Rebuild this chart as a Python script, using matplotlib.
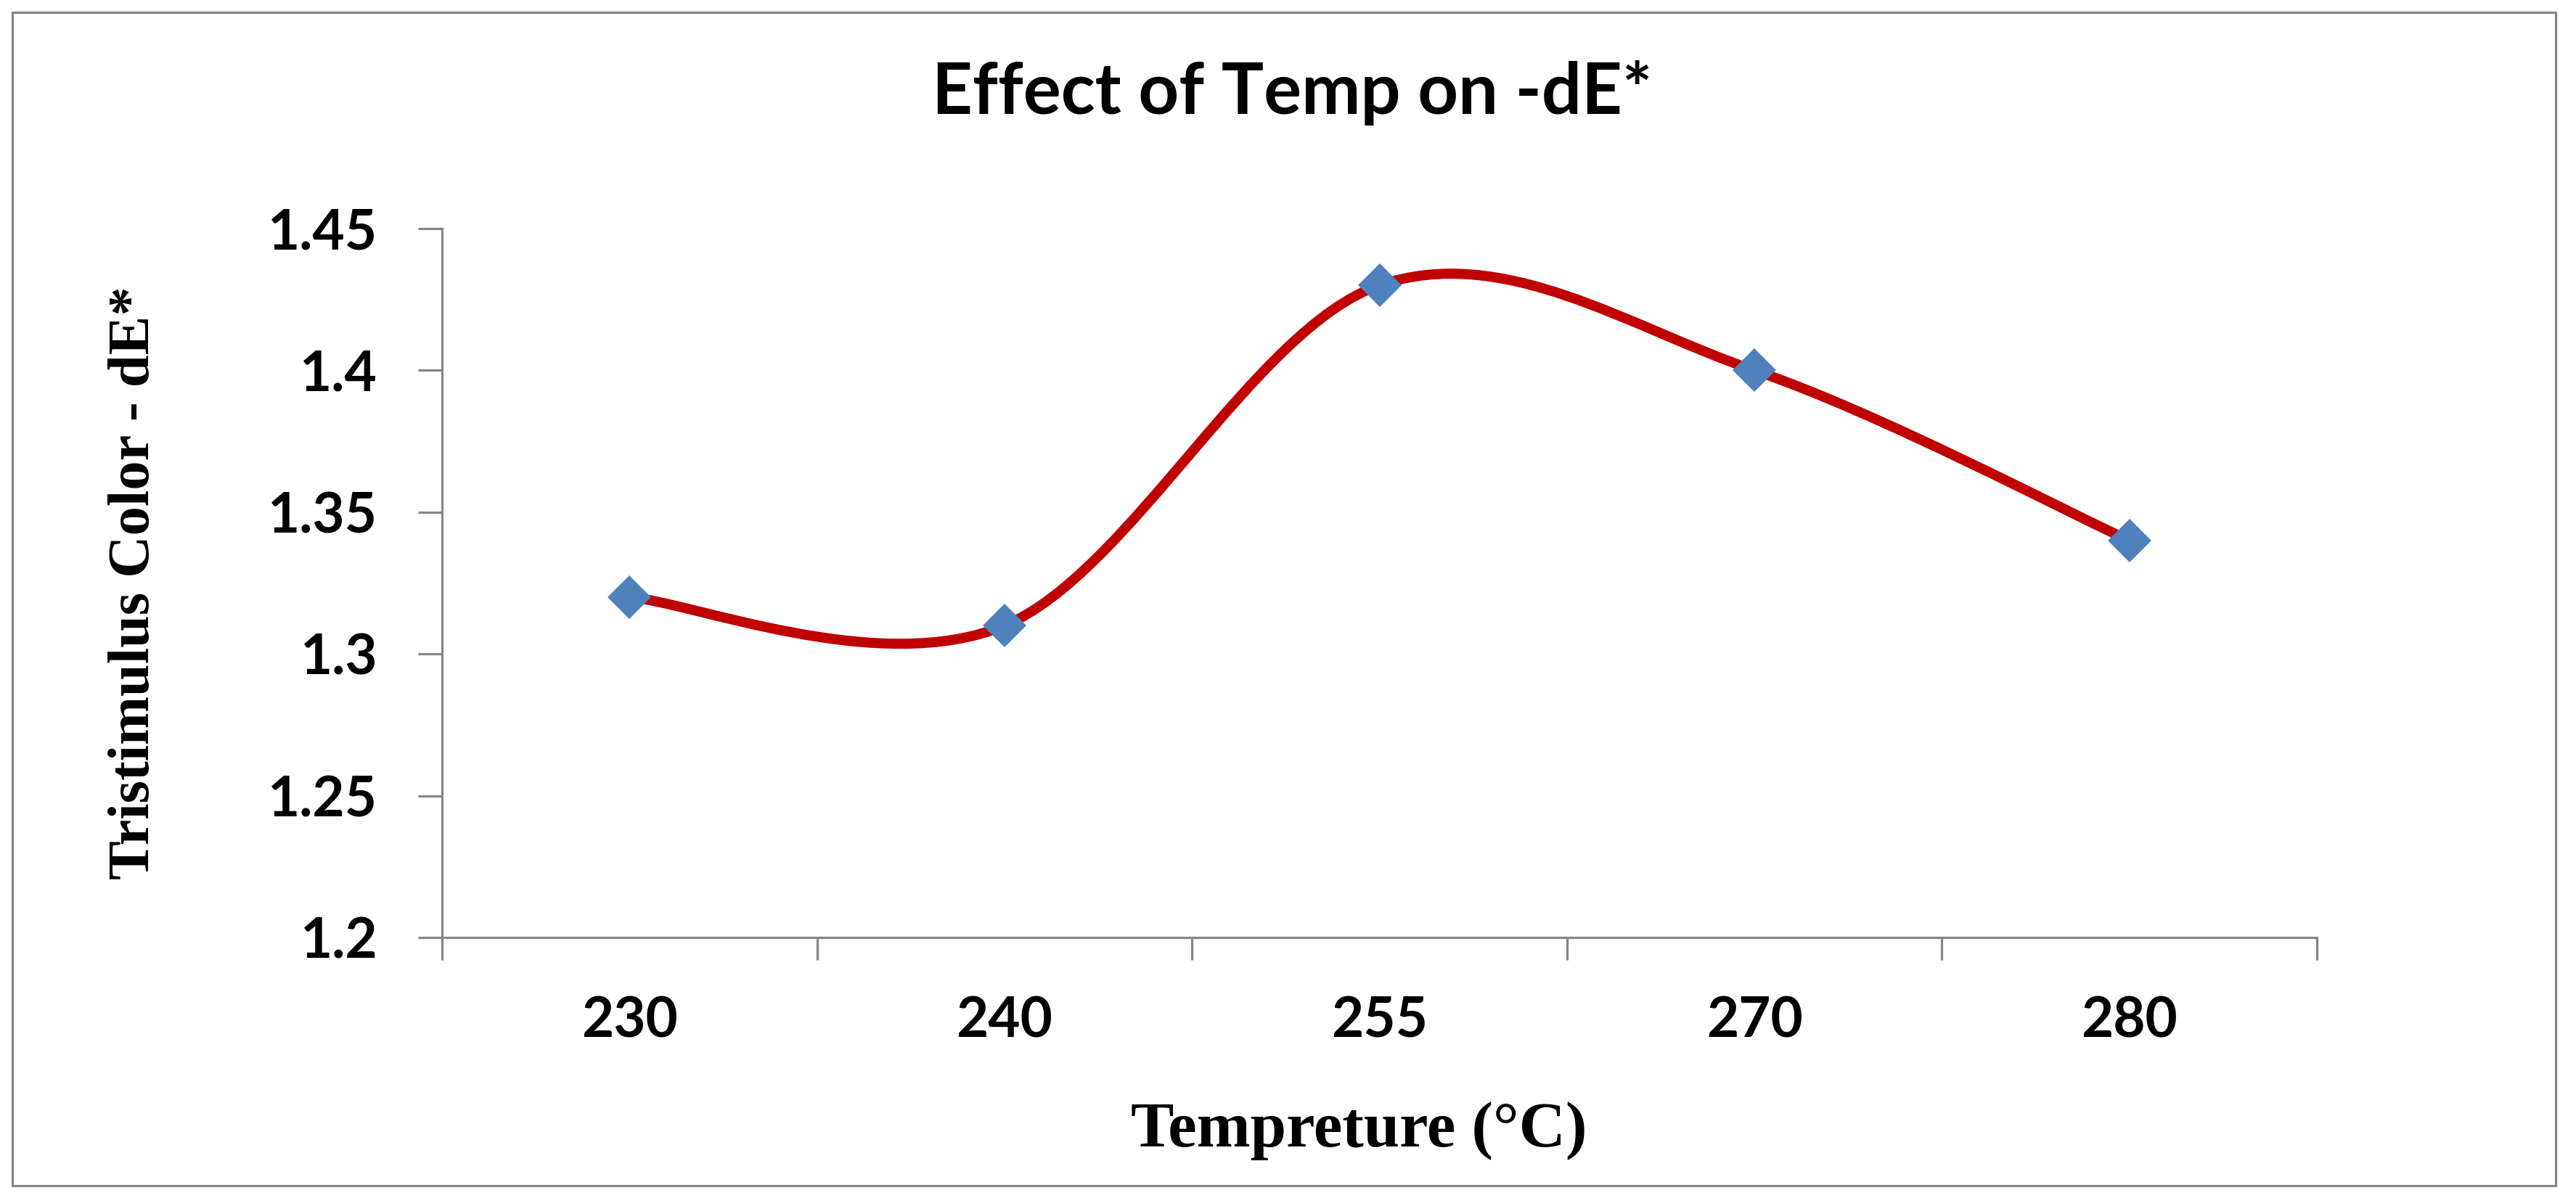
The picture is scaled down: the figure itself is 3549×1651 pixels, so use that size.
import numpy as np
import matplotlib
matplotlib.use('Agg')
from matplotlib import pyplot as plt
from matplotlib import patches
from matplotlib.path import Path


temps = ['230', '240', '255', '270', '280']
dE = [1.32, 1.31, 1.43, 1.40, 1.34]
y_ticks = [1.2, 1.25, 1.3, 1.35, 1.4, 1.45]
y_labels = ['1.2', '1.25', '1.3', '1.35', '1.4', '1.45']

W, H = 3549, 1651
DPI = 100
GRAY = '#868686'


def smooth_path(xs, ys):
    # excel-style smoothed line: catmull-rom as cubic bezier pieces
    pts = np.column_stack([xs, ys]).astype(float)
    ext = np.vstack([pts[0], pts, pts[-1]])
    verts = [pts[0]]
    codes = [Path.MOVETO]
    for i in range(len(pts) - 1):
        p0, p1, p2, p3 = ext[i], ext[i + 1], ext[i + 2], ext[i + 3]
        c1 = p1 + (p2 - p0) / 6.0
        c2 = p2 - (p3 - p1) / 6.0
        verts += [c1, c2, p2]
        codes += [Path.CURVE4] * 3
    return Path(verts, codes)


def main():
    fig = plt.figure(figsize=(W / DPI, H / DPI), dpi=DPI)
    ax = fig.add_axes([609 / W, 1 - 1292 / H, (3192 - 609) / W, (1292 - 315) / H])

    x = np.arange(len(temps))
    curve = patches.PathPatch(smooth_path(x, dE), fill=False, ec='#C00000',
                              lw=10, capstyle='round', zorder=2)
    ax.add_patch(curve)
    ax.plot(x, dE, ls='none', marker='D', ms=31, color='#4F81BD',
            mec='#4F81BD', mew=0, zorder=3)

    ax.set_xlim(-0.5, len(temps) - 0.5)
    ax.set_ylim(1.2, 1.45)

    for s in ['top', 'right']:
        ax.spines[s].set_visible(False)
    for s in ['left', 'bottom']:
        ax.spines[s].set_color(GRAY)
        ax.spines[s].set_linewidth(2.3)

    tick_font = dict(family='Lato', weight='bold', size=55)
    ax.set_yticks(y_ticks)
    ax.set_yticklabels(y_labels, fontdict=tick_font)
    ax.tick_params(axis='y', length=24, width=2.3, color=GRAY, pad=40)

    ax.set_xticks(np.arange(-0.5, len(temps), 1.0))
    ax.set_xticklabels([])
    ax.set_xticks(x, minor=True)
    ax.set_xticklabels(temps, minor=True, fontdict=tick_font)
    ax.tick_params(axis='x', which='major', length=22, width=2.3, color=GRAY)
    ax.tick_params(axis='x', which='minor', length=0, pad=58)

    fig.text(1780 / W, 1 - 128 / H, 'Effect of Temp on -dE*', ha='center',
             va='center', family='Lato', weight='bold', size=70)
    fig.text(186 / W, 1 - 803 / H, 'Tristimulus Color - dE*', rotation=90,
             ha='center', va='center', family='Liberation Serif',
             weight='bold', size=58)
    fig.text(1872 / W, 1 - 1558 / H, 'Tempreture (°C)', ha='center',
             va='center', family='Liberation Serif', weight='bold', size=64)

    frame = patches.Rectangle((17 / W, 17 / H), (3521 - 17) / W, (1634 - 17) / H,
                              transform=fig.transFigure, fill=False,
                              ec=GRAY, lw=2.3)
    fig.patches.append(frame)

    fig.savefig('out.png', dpi=DPI)


if __name__ == '__main__':
    main()
